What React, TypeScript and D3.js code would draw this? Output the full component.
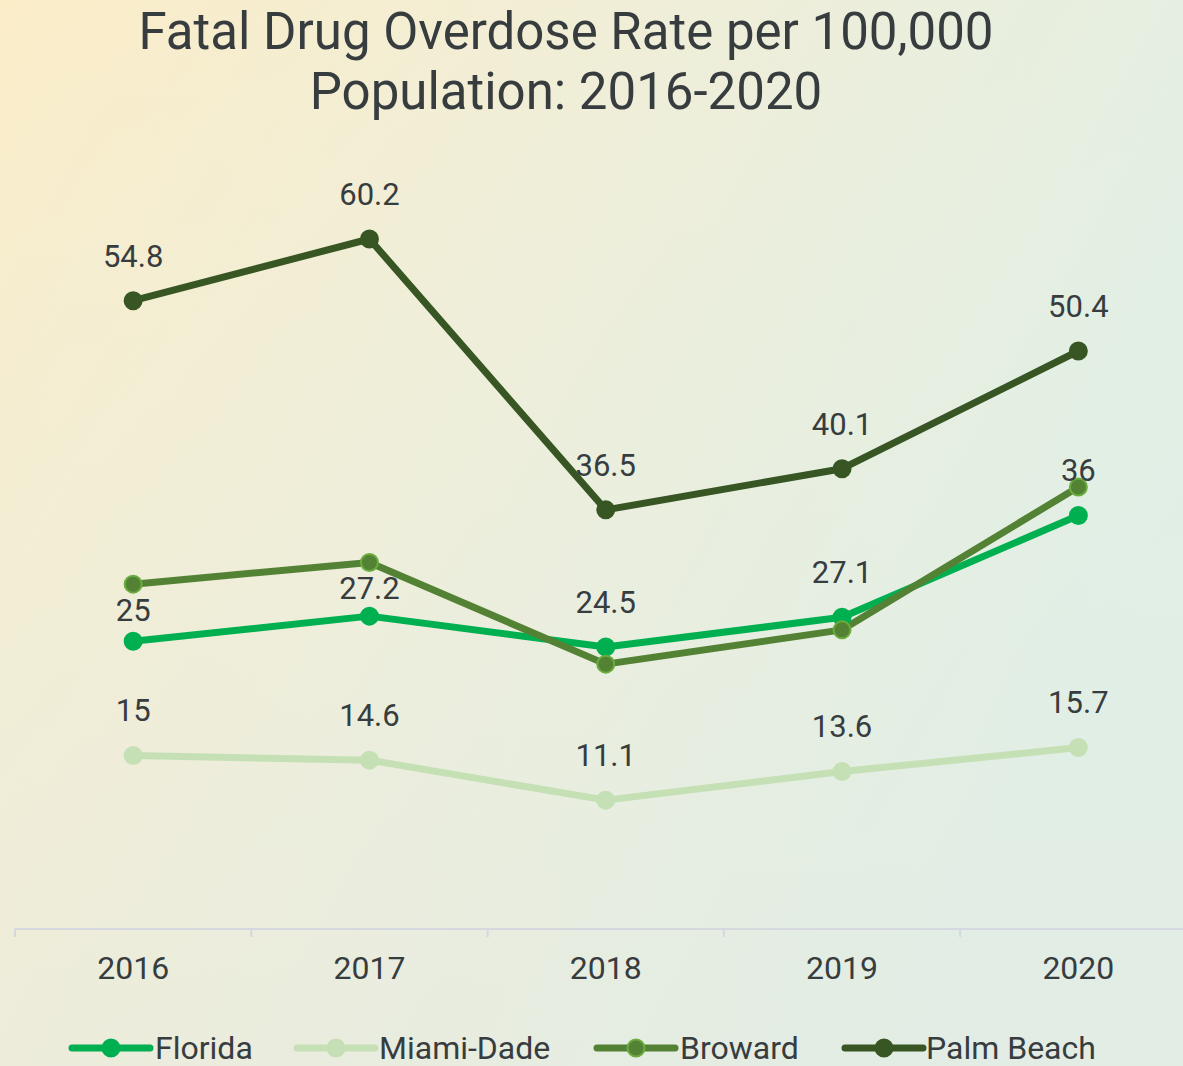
import React, { useEffect } from "react";
import * as d3 from "d3";

const years = ["2016", "2017", "2018", "2019", "2020"];
const florida = [25, 27.2, 24.5, 27.1, 36];
const miamiDade = [15, 14.6, 11.1, 13.6, 15.7];
const broward = [30.0, 31.9, 23.0, 26.0, 38.5];
const palmBeach = [54.8, 60.2, 36.5, 40.1, 50.4];
const seriesNames = ["Florida", "Miami-Dade", "Broward", "Palm Beach"];
const seriesColors = ["#00b050", "#c5e0b4", "#548235", "#375623"];
const markerStrokes = ["#00b050", "#c5e0b4", "#6aad3e", "#375623"];
const showLabels = [true, true, false, true];
const titleLines = ["Fatal Drug Overdose Rate per 100,000", "Population: 2016-2020"];

const W = 1183;
const H = 1066;
const TEXT = "#373d3f";
const FONT = "Roboto, 'Noto Sans', sans-serif";

export default function App() {
  useEffect(() => {
    document.body.style.margin = "0";
  }, []);

  const seriesValues = [florida, miamiDade, broward, palmBeach];
  const x = d3.scaleBand<string>().domain(years).range([15, 15 + 5 * 236.3]);
  const y = d3.scaleLinear().domain([0, 70]).range([927, 127]);
  const cx = (yr: string) => (x(yr) as number) + x.bandwidth() / 2;
  const line = d3
    .line<number>()
    .x((_, i) => cx(years[i]))
    .y((v) => y(v));

  // data label placement with simple collision avoidance against other markers
  const labels: { x: number; y: number; text: string }[] = [];
  seriesValues.forEach((vals, si) => {
    if (!showLabels[si]) return;
    vals.forEach((v, i) => {
      const px = cx(years[i]);
      const py = y(v);
      let c = py - 45;
      seriesValues.forEach((other, oi) => {
        if (oi === si) return;
        const oy = y(other[i]);
        if (Math.abs(oy - c) < 14 && oy < py) {
          c = Math.max(c, oy + 26);
        }
      });
      labels.push({ x: px, y: c, text: String(v) });
    });
  });

  const axisY = 929;
  const ticks = d3.range(0, years.length + 1).map((i) => 15 + i * x.step());

  const legendItems = [
    { lx: 72, tx: 155 },
    { lx: 297, tx: 379 },
    { lx: 597, tx: 680 },
    { lx: 845, tx: 926 },
  ];

  return (
    <svg width={W} height={H} style={{ display: "block" }} fontFamily={FONT}>
      <defs>
        <linearGradient id="bg" x1="0" y1="0" x2="1" y2="0.5">
          <stop offset="0" stopColor="#fbedc8" />
          <stop offset="0.45" stopColor="#f0eed8" />
          <stop offset="1" stopColor="#dfefe6" />
        </linearGradient>
        <linearGradient id="bg2" x1="0" y1="0" x2="0" y2="1">
          <stop offset="0" stopColor="#e6f2ea" stopOpacity="0" />
          <stop offset="1" stopColor="#e7e9e1" stopOpacity="0.4" />
        </linearGradient>
      </defs>
      <rect width={W} height={H} fill="url(#bg)" />
      <rect width={W} height={H} fill="url(#bg2)" />

      {titleLines.map((t, i) => (
        <text
          key={t}
          x={566}
          y={49 + i * 60}
          textAnchor="middle"
          fontSize={51}
          fill={TEXT}
        >
          {t}
        </text>
      ))}

      {/* x axis */}
      <line x1={15} x2={W} y1={axisY} y2={axisY} stroke="#d5d8de" strokeWidth={2} />
      {ticks.map((t) => (
        <line key={t} x1={t} x2={t} y1={axisY} y2={axisY + 8} stroke="#d5d8de" strokeWidth={2} />
      ))}
      {years.map((yr) => (
        <text key={yr} x={cx(yr)} y={979} textAnchor="middle" fontSize={32} fill={TEXT}>
          {yr}
        </text>
      ))}

      {/* lines */}
      {seriesValues.map((vals, si) => (
        <path
          key={seriesNames[si]}
          d={line(vals) as string}
          fill="none"
          stroke={seriesColors[si]}
          strokeWidth={7}
          strokeLinejoin="round"
        />
      ))}
      {seriesValues.map((vals, si) =>
        vals.map((v, i) => (
          <circle
            key={seriesNames[si] + i}
            cx={cx(years[i])}
            cy={y(v)}
            r={8.5}
            fill={seriesColors[si]}
            stroke={markerStrokes[si]}
            strokeWidth={2}
          />
        ))
      )}

      {labels.map((l, i) => (
        <text
          key={i}
          x={l.x}
          y={l.y}
          dy="0.35em"
          textAnchor="middle"
          fontSize={31}
          fill={TEXT}
        >
          {l.text}
        </text>
      ))}

      {/* legend */}
      {seriesNames.map((n, si) => {
        const it = legendItems[si];
        return (
          <g key={n}>
            <line
              x1={it.lx}
              x2={it.lx + 78}
              y1={1048}
              y2={1048}
              stroke={seriesColors[si]}
              strokeWidth={7}
              strokeLinecap="round"
            />
            <circle
              cx={it.lx + 39}
              cy={1048}
              r={8.5}
              fill={seriesColors[si]}
              stroke={markerStrokes[si]}
              strokeWidth={2}
            />
            <text x={it.tx} y={1059} fontSize={32} fill={TEXT}>
              {n}
            </text>
          </g>
        );
      })}
    </svg>
  );
}
